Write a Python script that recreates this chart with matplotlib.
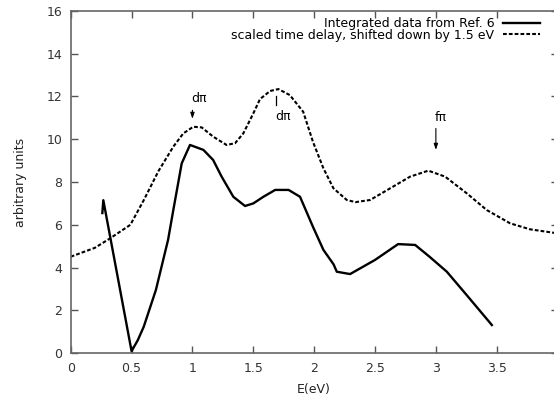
import matplotlib
matplotlib.use("Agg")
import matplotlib.pyplot as plt
from matplotlib.lines import Line2D

plt.rcParams['font.family'] = ['DejaVu Sans']

# Integrated data from Ref. 6 (solid)
solid_x = [0.26, 0.268, 0.50, 0.55, 0.60, 0.70, 0.80, 0.843, 0.912, 0.98, 1.09, 1.17,
           1.24, 1.336, 1.432, 1.50, 1.583, 1.68, 1.79, 1.884, 1.99, 2.076, 2.16, 2.186,
           2.295, 2.50, 2.69, 2.83, 2.95, 3.09, 3.25, 3.46]
solid_y = [6.55, 7.15, 0.1, 0.6, 1.24, 2.96, 5.3, 6.69, 8.87, 9.73, 9.5, 9.03,
           8.25, 7.31, 6.88, 7.0, 7.31, 7.63, 7.63, 7.31, 5.91, 4.83, 4.15, 3.81,
           3.7, 4.36, 5.1, 5.06, 4.5, 3.81, 2.74, 1.32]

# scaled time delay, shifted down by 1.5 eV (dashed)
dash_x = [0.0, 0.2, 0.324, 0.49, 0.60, 0.72, 0.843, 0.925, 1.007, 1.076, 1.17, 1.28,
          1.35, 1.418, 1.50, 1.555, 1.638, 1.706, 1.80, 1.91, 1.99, 2.076, 2.158, 2.268,
          2.34, 2.46, 2.623, 2.788, 2.938, 3.076, 3.254, 3.418, 3.61, 3.774, 3.966, 4.0]
dash_y = [4.51, 4.93, 5.37, 6.0, 7.15, 8.5, 9.65, 10.27, 10.58, 10.55, 10.12, 9.73,
          9.81, 10.27, 11.2, 11.87, 12.25, 12.34, 12.06, 11.28, 9.88, 8.64, 7.71, 7.16,
          7.06, 7.16, 7.7, 8.25, 8.53, 8.25, 7.47, 6.69, 6.07, 5.79, 5.63, 5.6]

x_ticks = [0, 0.5, 1, 1.5, 2, 2.5, 3, 3.5, 4]
x_ticklabels = ['0', '0.5', '1', '1.5', '2', '2.5', '3', '3.5', '']
y_ticks = [0, 2, 4, 6, 8, 10, 12, 14, 16]

labels = ['Integrated data from Ref. 6', 'scaled time delay, shifted down by 1.5 eV']

fig = plt.figure(figsize=(5.54, 3.97), dpi=100)
ax = fig.add_axes([70.7/554, (397-353.3)/397, (557.6-70.7)/554, (353.3-10.7)/397])

dash_style = (0, (1.8, 1.0))
ax.plot(solid_x, solid_y, color='black', lw=1.7, solid_joinstyle='round')
ax.plot(dash_x, dash_y, color='black', lw=1.5, linestyle=dash_style)

ax.set_xlim(0, 4)
ax.set_ylim(0, 16)
ax.set_xticks(x_ticks)
ax.set_xticklabels(x_ticklabels)
ax.set_yticks(y_ticks)
ax.tick_params(direction='in', length=5, width=1, top=True, right=True,
               labelsize=9, labelcolor='#333333', color='#555555', pad=6)
for s in ax.spines.values():
    s.set_color('#666666')
    s.set_linewidth(1.2)

ax.set_xlabel('E(eV)', fontsize=9, labelpad=6, color='#222222')
ax.set_ylabel('arbitrary units', fontsize=9, labelpad=14, color='#222222')

# annotations
arrow = dict(arrowstyle='-|>,head_length=0.35,head_width=0.12', color='black',
             lw=0.8, shrinkA=0, shrinkB=0)
ax.annotate('', xy=(1.0, 10.95), xytext=(1.0, 11.35), arrowprops=arrow)
ax.text(1.05, 11.9, 'dπ', fontsize=9, ha='center', va='center')
ax.plot([1.69, 1.69], [11.6, 12.0], color='black', lw=0.9)
ax.text(1.745, 11.05, 'dπ', fontsize=9, ha='center', va='center')
ax.annotate('', xy=(3.0, 9.5), xytext=(3.0, 10.5), arrowprops=arrow)
ax.text(3.04, 11.0, 'fπ', fontsize=9, ha='center', va='center')

handles = [Line2D([], [], color='black', lw=1.7),
           Line2D([], [], color='black', lw=1.5, linestyle=dash_style)]
ax.legend(handles, labels, loc='upper right', bbox_to_anchor=(540/554, 1 - 17/397),
          bbox_transform=fig.transFigure, frameon=False, markerfirst=False,
          fontsize=9, handlelength=3.0, handletextpad=0.65, labelspacing=-0.1,
          borderpad=0, borderaxespad=0)

fig.savefig('out.png', dpi=100)
